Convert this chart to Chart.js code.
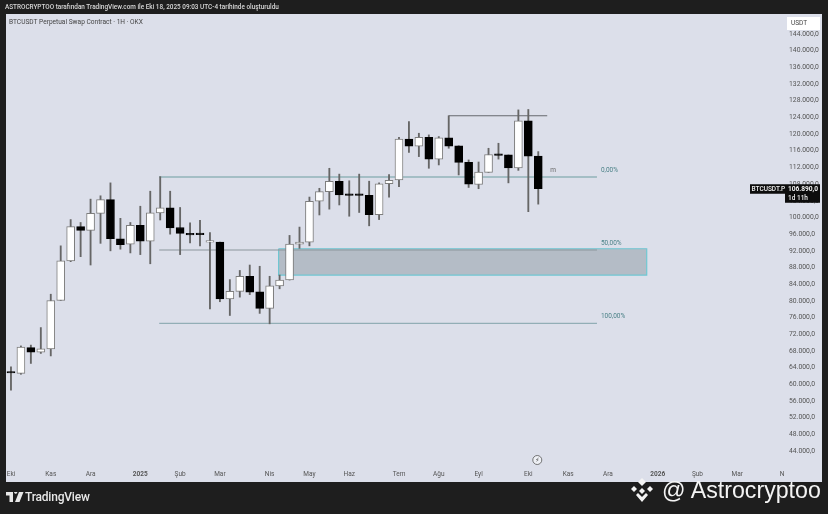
<!DOCTYPE html>
<html>
<head>
<meta charset="utf-8">
<title>BTCUSDT</title>
<script src="https://cdn.jsdelivr.net/npm/chart.js@4"></script>
<style>
  html, body { margin: 0; padding: 0; background: #1e1e1e; overflow: hidden; }
  body { width: 828px; height: 514px; position: relative; font-family: Roboto, "Liberation Sans", sans-serif; }
  #panel { position: absolute; left: 6px; top: 14px; width: 816px; height: 468px; background: #dcdfea; }
  canvas { position: absolute; left: 0; top: 0; }
  .txt { position: absolute; white-space: nowrap; }
  #caption { left: 5px; top: 3px; font-size: 6.4px; line-height: 8px; font-weight: 500; color: #d8d8d8; }
  #symbol { left: 9px; top: 18px; font-size: 6.6px; line-height: 8px; color: #444; }
  #unit { left: 787px; top: 17px; width: 33px; height: 13px; line-height: 13px; background: #fff; color: #444; font-size: 6.5px; text-indent: 4px; }
  #brand { left: 25px; top: 490px; font-size: 12px; line-height: 15px; font-weight: 500; color: #e8e8e8; letter-spacing: -0.2px; }
  #mark { left: 662px; top: 476px; font-family: "Liberation Sans", sans-serif; font-size: 23.2px; line-height: 28px; color: #f4f4f4; }
  svg { position: absolute; }
</style>
</head>
<body>
<div id="panel"></div>
<canvas id="chart" width="828" height="514"></canvas>
<div class="txt" id="caption">ASTROCRYPTOO tarafından TradingView.com ile Eki 18, 2025 09:03 UTC-4 tarihinde oluşturuldu</div>
<div class="txt" id="symbol">BTCUSDT Perpetual Swap Contract · 1H · OKX</div>
<div class="txt" id="unit">USDT</div>
<svg style="left:6px;top:492px" width="18" height="11" viewBox="0 0 18 11"><path d="M0 0h7v10H3.5V3.5H0z M8 0a1.7 1.7 0 1 1 0 .01z M13 0h4.5l-4 10H9z" fill="#e8e8e8"/></svg>
<div class="txt" id="brand">TradingView</div>
<svg style="left:628px;top:477px" width="28" height="28" viewBox="0 0 28 28"><g fill="#f4f4f4"><path d="M14 1l4 4-4 4-4-4z"/><path d="M6 9l3 3-3 3-3-3z"/><path d="M22 9l3 3-3 3-3-3z"/><path d="M14 11l3 3-3 3-3-3z"/><path d="M8 18l2-2 4 4 4-4 2 2-6 7z"/></g></svg>
<div class="txt" id="mark">@ Astrocryptoo</div>
<script>
const opens = [62800,62600,68800,67700,68500,80100,89600,97800,96900,101000,104300,94900,93600,98100,94300,101100,102300,97600,96200,96100,94100,94100,80500,82300,85900,82200,78200,83600,85000,93600,94100,103900,106200,108700,105600,105600,105300,100700,108100,109000,118800,117100,119200,114000,119100,117200,113200,107900,110800,115200,115000,111900,123200,114700];
const highs = [64200,69200,69400,73600,81600,93200,99500,98800,104400,105200,108300,99800,98800,102700,106300,109800,106300,102400,98700,99300,96400,94100,85100,87300,88600,88300,85900,86200,95700,97700,104900,107000,111800,110400,108800,110400,108700,108300,110300,119200,123000,120200,119800,119400,124400,117200,113800,113300,116600,117800,115000,125800,125900,115800];
const lows = [58600,62400,65000,67400,66800,80100,89400,90600,88600,93800,92000,92400,91500,91100,88900,99400,96000,91100,93900,93200,78100,79800,76500,80900,81500,77000,74500,82900,85000,92600,93200,100600,102000,103000,100300,101200,98000,99500,104900,107400,115600,114600,111800,112600,116600,110200,107200,106900,110800,114000,108300,111300,101400,103200];
const closes = [62700,68900,67700,68500,80100,89600,97800,96900,101000,104300,94900,93500,98100,94300,101100,102300,97500,96200,95800,95900,94100,80500,82300,85900,82100,78200,83600,85000,93600,94100,103900,106200,108700,105400,105300,105300,100700,108100,108900,118800,117100,119200,114000,119100,117100,113200,108000,110900,115100,114900,111900,123200,114700,106890];

const yTicks = [144000,140000,136000,132000,128000,124000,120000,116000,112000,108000,104000,100000,96000,92000,88000,84000,80000,76000,72000,68000,64000,60000,56000,52000,48000,44000];
const xTickPos = [0,4,8,13,17,21,26,30,34,39,43,47,52,56,60,65,69,73,77.5];
const xTickLabels = ['Eki','Kas','Ara','2025','Şub','Mar','Nis','May','Haz','Tem','Ağu','Eyl','Eki','Kas','Ara','2026','Şub','Mar','N'];

const fibStart = 14.9, fibEnd = 58.9;
const fib0 = 109700, fib50 = 92200, fib100 = 74600;
const topLevel = 124400, topFrom = 44, topTo = 53.9;
const zoneFrom = 26.9, zoneTo = 63.9, zoneHigh = 92500, zoneLow = 86200;
const lastPrice = 106890;

function hLine(from, to, y, color, width) {
  return {
    type: 'line', data: [{ x: from, y: y }, { x: to, y: y }],
    borderColor: color, borderWidth: width, pointRadius: 0, order: 3
  };
}

function priceText(v) {
  return v.toLocaleString('tr-TR', { minimumFractionDigits: 1, maximumFractionDigits: 1 });
}

// labels and tags that hang off the scales
const overlay = {
  id: 'overlay',
  afterDraw(chart) {
    const c = chart.ctx, x = chart.scales.x, y = chart.scales.y;
    c.save();
    c.textBaseline = 'middle';
    c.textAlign = 'left';
    c.font = '6.5px Roboto';
    c.fillStyle = '#4c8288';
    [['0,00%', fib0], ['50,00%', fib50], ['100,00%', fib100]].forEach(l => {
      c.fillText(l[0], x.getPixelForValue(59.3), y.getPixelForValue(l[1]) - 7);
    });
    c.fillStyle = '#666';
    c.fillText('m', x.getPixelForValue(54.2), y.getPixelForValue(111200));

    // session marker
    const mx = x.getPixelForValue(52.9), my = 460;
    c.beginPath();
    c.arc(mx, my, 4.5, 0, Math.PI * 2);
    c.fillStyle = '#eef0f5';
    c.fill();
    c.strokeStyle = '#555';
    c.lineWidth = 0.8;
    c.stroke();
    c.fillStyle = '#444';
    c.textAlign = 'center';
    c.font = '6px "DejaVu Sans"';
    c.fillText('⚡', mx, my);

    // last price tag
    const py = y.getPixelForValue(lastPrice);
    c.fillStyle = '#0d0d0d';
    c.fillRect(750, py - 4.5, 35, 9.5);
    c.fillRect(785, py - 4.5, 35, 18.5);
    c.fillStyle = '#f2f2f2';
    c.textAlign = 'left';
    c.font = '500 6.5px Roboto';
    c.fillText('BTCUSDT.P', 751.5, py + 0.5);
    c.font = '700 6.6px Roboto';
    c.fillText(priceText(lastPrice), 788, py + 0.5);
    c.font = '500 6.5px Roboto';
    c.fillText('1d 11h', 788, py + 9.5);
    c.restore();
  }
};

new Chart(document.getElementById('chart').getContext('2d'), {
  type: 'bar',
  data: {
    datasets: [
      {
        label: 'bodies',
        data: opens.map((o, i) => ({ x: i, y: [o, closes[i]] })),
        backgroundColor: ctx => closes[ctx.dataIndex] >= opens[ctx.dataIndex] ? '#ffffff' : '#000000',
        borderColor: ctx => closes[ctx.dataIndex] >= opens[ctx.dataIndex] ? '#7d7d7d' : '#000000',
        borderWidth: 1, borderSkipped: false, barThickness: 8, minBarLength: 1.5, order: 1
      },
      {
        label: 'wicks',
        data: highs.map((h, i) => ({ x: i, y: [lows[i], h] })),
        backgroundColor: '#666666',
        barThickness: 1.2, order: 2
      },
      hLine(fibStart, fibEnd, fib0, '#92b3b8', 1.4),
      hLine(fibStart, fibEnd, fib50, '#8b969c', 1),
      hLine(fibStart, fibEnd, fib100, '#92aeb6', 1.2),
      hLine(topFrom, topTo, topLevel, '#66696e', 1.2),
      {
        type: 'line',
        data: [{ x: zoneFrom, y: zoneHigh }, { x: zoneTo, y: zoneHigh }, { x: zoneTo, y: zoneLow }, { x: zoneFrom, y: zoneLow }, { x: zoneFrom, y: zoneHigh }],
        borderColor: '#6fc6d2', borderWidth: 1.2, pointRadius: 0, fill: false, order: 4
      },
      {
        type: 'line',
        data: [{ x: zoneFrom, y: zoneHigh }, { x: zoneTo, y: zoneHigh }],
        borderWidth: 0, pointRadius: 0, backgroundColor: '#b4bcc6',
        fill: { target: { value: zoneLow } }, order: 5
      }
    ]
  },
  options: {
    responsive: false,
    animation: false,
    devicePixelRatio: 1,
    layout: { padding: { left: 6, top: 14, right: 7, bottom: 32 } },
    plugins: { legend: { display: false }, tooltip: { enabled: false } },
    datasets: { bar: { grouped: false } },
    scales: {
      x: {
        type: 'linear', min: -0.5, max: 77.8, offset: false,
        grid: { display: false, drawTicks: false, tickLength: 0 }, border: { display: false },
        afterBuildTicks: axis => { axis.ticks = xTickPos.map(v => ({ value: v })); },
        afterFit: axis => { axis.height = 16; },
        ticks: {
          autoSkip: false, maxRotation: 0, padding: 4, color: '#555',
          font: ctx => ({ family: 'Roboto', size: 6.5, weight: ctx.tick && /^20/.test(xTickLabels[xTickPos.indexOf(ctx.tick.value)]) ? '700' : '400' }),
          callback: value => xTickLabels[xTickPos.indexOf(value)]
        }
      },
      y: {
        type: 'linear', position: 'right', min: 40406, max: 148796,
        grid: { display: false, drawTicks: false, tickLength: 0 }, border: { display: false },
        afterBuildTicks: axis => { axis.ticks = yTicks.map(v => ({ value: v })); },
        afterFit: axis => { axis.width = 36; },
        ticks: {
          autoSkip: false, padding: 4, color: '#555',
          font: { family: 'Roboto', size: 6.8 },
          callback: value => priceText(value)
        }
      }
    }
  },
  plugins: [overlay]
});
</script>
</body>
</html>
